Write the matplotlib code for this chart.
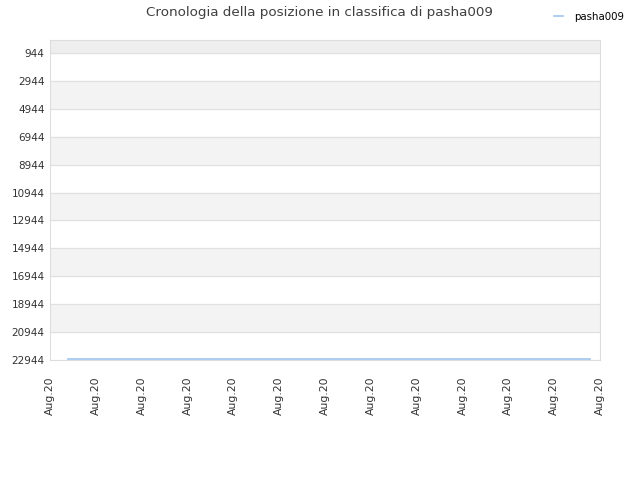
import numpy as np
import matplotlib
matplotlib.use('Agg')
import matplotlib.pyplot as plt

# data
tick_labels = ['Aug.20'] * 13
y_ticks = [944, 2944, 4944, 6944, 8944, 10944, 12944, 14944, 16944, 18944, 20944, 22944]
player = 'pasha009'
x_points = [0.39, 11.79]
rank_points = [22900, 22900]

fig = plt.figure(figsize=(6.4, 4.8), dpi=100)
ax = fig.add_axes([50 / 640, 1 - 360 / 480, 550 / 640, 320 / 480])

y_top = 15
y_bottom = 22944
ax.set_ylim(y_bottom, y_top)
ax.set_xlim(0, 12)

# alternating bands
ax.axhspan(y_top, y_ticks[0], color='#eeeeee', zorder=0)
for i in range(len(y_ticks) - 1):
    if i % 2 == 1:
        ax.axhspan(y_ticks[i], y_ticks[i + 1], color='#f3f3f3', zorder=0)
for y in y_ticks:
    ax.axhline(y, color='#e0e0e0', linewidth=0.8, zorder=1)

ax.plot(x_points, rank_points, color='#9ec5ee', linewidth=1.2, zorder=3,
        label=player)

ax.set_yticks(y_ticks)
ax.set_yticklabels([str(v) for v in y_ticks])
ax.set_xticks(np.arange(len(tick_labels)))
ax.set_xticklabels(tick_labels, rotation=90)
ax.tick_params(axis='y', length=0, labelsize=7.5, colors='#333333', pad=4)
ax.tick_params(axis='x', length=0, labelsize=7.8, colors='#333333', pad=12)

for s in ax.spines.values():
    s.set_color('#dddddd')
    s.set_linewidth(0.8)

fig.text(0.5, 0.988, 'Cronologia della posizione in classifica di pasha009',
         ha='center', va='top', fontsize=9.7, color='#404040')

leg = fig.legend(loc='upper right', bbox_to_anchor=(0.99, 0.995), frameon=False,
                 fontsize=7.4, handlelength=0.9, handletextpad=1.1)

fig.savefig('out.png', dpi=100)
